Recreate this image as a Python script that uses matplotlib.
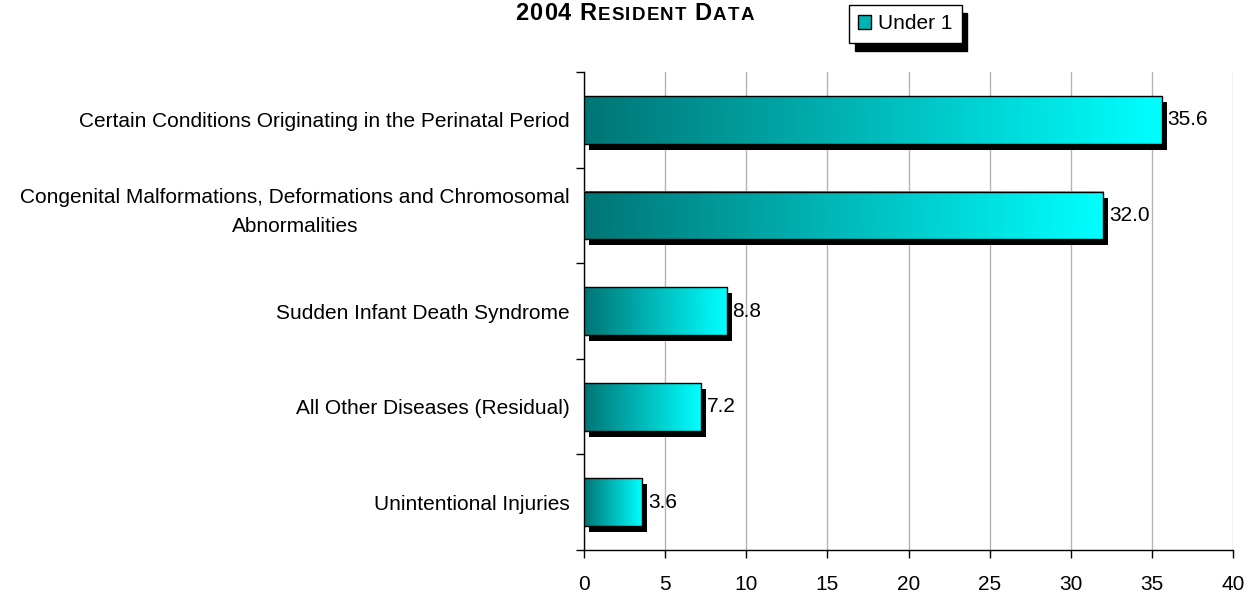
"""
Under-1 causes of death, 2004 resident data: horizontal gradient bars with drop shadows.
"""
import matplotlib
matplotlib.use("Agg")
import matplotlib.pyplot as plt
import matplotlib.transforms as mtransforms
import numpy as np
from matplotlib.colors import LinearSegmentedColormap
from matplotlib.patches import Rectangle, Patch

causes = [
    "Certain Conditions Originating in the Perinatal Period",
    "Congenital Malformations, Deformations and Chromosomal\nAbnormalities",
    "Sudden Infant Death Syndrome",
    "All Other Diseases (Residual)",
    "Unintentional Injuries",
]
rates = [35.6, 32.0, 8.8, 7.2, 3.6]
series_name = "Under 1"
x_ticks = [0, 5, 10, 15, 20, 25, 30, 35, 40]
title = "2004 Resident Data"

DARK, BRIGHT = "#007575", "#00FFFF"
GRID = "#B4B4B4"
FONT = "Liberation Sans"
FS = 15

plt.rcParams.update({"font.family": FONT, "font.size": FS})
cmap = LinearSegmentedColormap.from_list("teal", [DARK, BRIGHT])

fig = plt.figure(figsize=(12.51, 5.98), dpi=100)
ax = fig.add_axes([584 / 1251, 1 - 550 / 598, (1233 - 584) / 1251, (550 - 72) / 598])

bar_h = 0.5
shadow = mtransforms.ScaledTranslation(5 / 100, -6 / 100, fig.dpi_scale_trans)
grad = np.linspace(0, 1, 256).reshape(1, -1)
for i, v in enumerate(rates):
    y0 = i - bar_h / 2
    ax.add_patch(Rectangle((0, y0), v, bar_h, facecolor="black", edgecolor="none",
                           transform=ax.transData + shadow, zorder=2))
    ax.imshow(grad, cmap=cmap, extent=(0, v, y0 + bar_h, y0), aspect="auto",
              interpolation="bilinear", zorder=3)
    ax.add_patch(Rectangle((0, y0), v, bar_h, facecolor="none", edgecolor="black",
                           lw=1.0, zorder=4))
    ax.annotate(f"{v:.1f}", xy=(v, i), xytext=(4, 0), textcoords="offset points",
                ha="left", va="center", fontsize=FS, zorder=5)

ax.set_xlim(0, 40)
ax.set_ylim(len(rates) - 0.5, -0.5)
ax.set_xticks(x_ticks)
ax.xaxis.grid(True, color=GRID, lw=1.0)
ax.set_axisbelow(True)
ax.set_yticks(np.arange(len(rates) + 1) - 0.5)
ax.set_yticklabels([])
# single-line names as tick labels, the two-line one placed by hand a touch higher
ax.set_yticks(range(len(rates)), minor=True)
ax.set_yticklabels([c if "\n" not in c else "" for c in causes], minor=True)
for i, c in enumerate(causes):
    if "\n" in c:
        ax.annotate(c, xy=(0, i), xycoords=("axes fraction", "data"), xytext=(-10, 2.5),
                    textcoords="offset points", ha="right", va="center",
                    multialignment="center", linespacing=1.7, fontsize=FS)
ax.tick_params(axis="y", which="minor", length=0, pad=10)
ax.tick_params(axis="y", which="major", length=6, width=1, direction="out")
ax.tick_params(axis="x", length=6, width=1, pad=12, labelsize=FS)
for s in ("top", "right"):
    ax.spines[s].set_visible(False)
ax.spines["left"].set_linewidth(1.0)
ax.spines["bottom"].set_linewidth(1.0)

# title in small caps, one glyph at a time
fig.canvas.draw()
r = fig.canvas.get_renderer()
x = 515
for word_start, ch in zip([True] + [title[k - 1] == " " for k in range(1, len(title))], title):
    big = ch.isdigit() or (ch.isupper() and word_start)
    t = fig.text(x / 1251, 1 - 20 / 598, ch.upper(), fontsize=17 if big else 13.5,
                 fontweight="bold", ha="left", va="baseline")
    w = t.get_window_extent(r).width if ch != " " else 6
    x += w + 1.2

leg = fig.legend(handles=[Patch(facecolor="#00B4B4", edgecolor="black", lw=1.0, label=series_name)],
                 loc="upper left", bbox_to_anchor=(849 / 1251, 1 - 5 / 598), borderaxespad=0,
                 fancybox=False, edgecolor="black", framealpha=1, fontsize=FS,
                 handlelength=0.6, handleheight=0.6, handletextpad=0.35,
                 borderpad=0.45, shadow={"color": "black", "alpha": 1, "ox": 4, "oy": -6})
leg.get_frame().set_linewidth(1.0)

fig.savefig("out.png", dpi=100)
